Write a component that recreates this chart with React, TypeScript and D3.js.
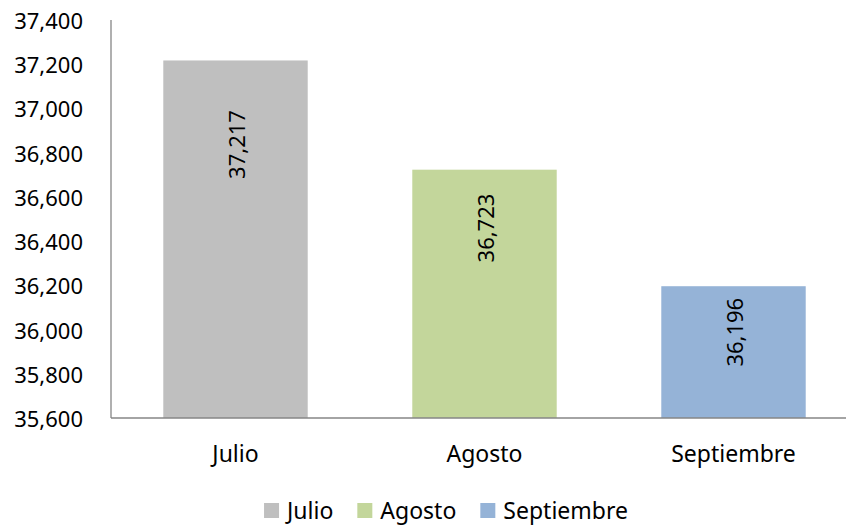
import React, { useEffect, useRef } from "react";
import * as d3 from "d3";

const categories = ["Julio", "Agosto", "Septiembre"];
const values = [37217, 36723, 36196];
const colors = ["#BFBFBF", "#C3D69B", "#95B3D7"];
const yTicks = [35600, 35800, 36000, 36200, 36400, 36600, 36800, 37000, 37200, 37400];

const W = 846;
const H = 527;
const FONT = "'Noto Sans', sans-serif";

export default function App() {
  const ref = useRef<SVGSVGElement>(null);

  useEffect(() => {
    const svg = d3.select(ref.current!);
    svg.selectAll("*").remove();

    const left = 111;
    const right = 858;
    const top = 20;
    const bottom = 418;

    const x = d3.scaleBand<string>().domain(categories).range([left, right]).paddingInner(0.42).paddingOuter(0.21);
    const y = d3.scaleLinear().domain([35600, 37400]).range([bottom, top]);
    const fmt = d3.format(",");

    const g = svg.append("g");
    g.selectAll("rect")
      .data(values)
      .join("rect")
      .attr("x", (_, i) => x(categories[i])!)
      .attr("y", (d) => y(d))
      .attr("width", x.bandwidth())
      .attr("height", (d) => bottom - y(d))
      .attr("fill", (_, i) => colors[i]);

    g.selectAll("text.lbl")
      .data(values)
      .join("text")
      .attr("class", "lbl")
      .attr("transform", (d, i) => {
        const cx = x(categories[i])! + x.bandwidth() / 2;
        const h = bottom - y(d);
        const cy = y(d) + Math.max(0.235 * h, 46);
        return `translate(${cx},${cy}) rotate(-90)`;
      })
      .attr("text-anchor", "middle")
      .attr("dominant-baseline", "central")
      .attr("font-family", FONT)
      .attr("font-size", 22)
      .attr("fill", "#000")
      .text((d) => fmt(d));

    svg.append("line").attr("x1", left).attr("x2", left).attr("y1", top).attr("y2", bottom)
      .attr("stroke", "#868686").attr("stroke-width", 1.3);
    svg.append("line").attr("x1", left).attr("x2", W).attr("y1", bottom).attr("y2", bottom)
      .attr("stroke", "#868686").attr("stroke-width", 1.3);

    svg.append("g").selectAll("text")
      .data(yTicks)
      .join("text")
      .attr("x", 83)
      .attr("y", (d) => y(d))
      .attr("text-anchor", "end")
      .attr("dominant-baseline", "central")
      .attr("font-family", FONT)
      .attr("font-size", 22)
      .attr("fill", "#000")
      .text((d) => fmt(d));

    svg.append("g").selectAll("text")
      .data(categories)
      .join("text")
      .attr("x", (d) => x(d)! + x.bandwidth() / 2)
      .attr("y", 462)
      .attr("text-anchor", "middle")
      .attr("font-family", FONT)
      .attr("font-size", 23)
      .attr("fill", "#000")
      .text((d) => d);

    const lg = svg.append("g");
    const sq = 15;
    const gapText = 8;
    const gapItem = 24;
    const items = categories.map((c, i) => {
      const item = lg.append("g");
      item.append("rect").attr("width", sq).attr("height", sq).attr("y", 503).attr("fill", colors[i]);
      const t = item.append("text")
        .attr("x", sq + gapText)
        .attr("y", 519)
        .attr("font-family", FONT)
        .attr("font-size", 23)
        .attr("fill", "#000")
        .text(c);
      const w = (t.node() as SVGTextElement).getComputedTextLength();
      return { item, w: sq + gapText + w };
    });
    const total = items.reduce((s, it) => s + it.w, 0) + gapItem * (items.length - 1);
    let cur = 446 - total / 2;
    items.forEach((it) => {
      it.item.attr("transform", `translate(${cur},0)`);
      cur += it.w + gapItem;
    });
  }, []);

  return (
    <svg ref={ref} width={W} height={H} style={{ display: "block", position: "absolute", left: 0, top: 0, background: "#fff" }} />
  );
}
